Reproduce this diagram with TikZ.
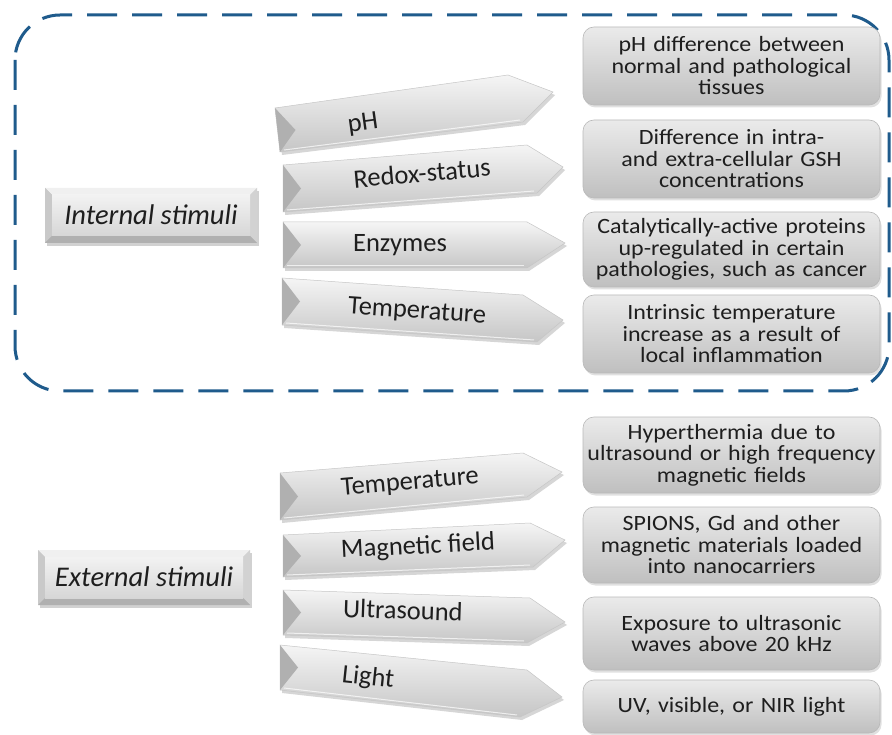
\documentclass[tikz,border=0pt]{standalone}
\usepackage{fontspec}
\setmainfont{Carlito}
\newfontfamily\boxfont{Carlito}[FakeStretch=1.1]
\usetikzlibrary{calc,shadows}
\definecolor{dashblue}{HTML}{1F5B8C}
\definecolor{txt}{HTML}{1E1E1E}
\newcommand{\stimarrow}[5]{%
  \fill[black,opacity=0.16,xshift=2pt,yshift=-3pt] #1 -- #2 -- #3 -- #4 -- #5 -- cycle;
  \shade[top color=gray!8,middle color=gray!20,bottom color=gray!45,draw=gray!45,line width=0.5pt] #1 -- #2 -- #3 -- #4 -- #5 -- cycle;
  \draw[white,opacity=0.7,line width=1pt] ($#5+(4,-2)$) -- ($#4+(-3,-2)$);
  \fill[gray!62] #1 -- #5 -- ($#1!0.5!#5+(18,0)$) -- cycle;
}
\newcommand{\bevelbox}[4]{%
  \fill[black,opacity=0.18] ({#1+2},{#2+3}) rectangle ({#3+2},{#4+3});
  \fill[gray!50] (#1,#2) rectangle (#3,#4);
  \fill[gray!12] (#1,#2) -- (#3,#2) -- ({#3-7},{#2+7}) -- ({#1+7},{#2+7}) -- cycle;
  \fill[gray!42] (#1,#2) -- ({#1+7},{#2+7}) -- ({#1+7},{#4-7}) -- (#1,#4) -- cycle;
  \fill[gray!35] (#3,#2) -- ({#3-7},{#2+7}) -- ({#3-7},{#4-7}) -- (#3,#4) -- cycle;
  \fill[gray!62] (#1,#4) -- ({#1+7},{#4-7}) -- ({#3-7},{#4-7}) -- (#3,#4) -- cycle;
  \shade[top color=gray!10,bottom color=gray!32] ({#1+7},{#2+7}) rectangle ({#3-7},{#4-7});
}
\tikzset{
  descbox/.style={rounded corners=11pt, top color=gray!16, middle color=gray!28, bottom color=gray!50,
    draw=gray!55, line width=0.6pt, minimum width=297pt, text width=296pt, align=center,
    font=\boxfont\fontsize{21.8}{21.5}\selectfont, text=txt, inner sep=0pt,
    drop shadow={shadow xshift=1.5pt, shadow yshift=-2.5pt, opacity=0.3, fill=gray!80}},
  alabel/.style={font=\fontsize{26.5}{28}\selectfont, text=txt, inner sep=0pt},
  slabel/.style={font=\itshape\fontsize{28.5}{30}\selectfont, text=txt, inner sep=0pt},
}
\begin{document}
\begin{tikzpicture}[x=1pt,y=-1pt]
\useasboundingbox (0,0) rectangle (892,735);
\fill[white] (0,0) rectangle (892,735);

% dashed frame
\draw[dashblue, line width=3pt, dash pattern=on 30pt off 15pt, rounded corners=45pt] (15,15) rectangle (889,391);

% stimulus boxes
\bevelbox{45}{188}{257}{243}
\node[slabel] (internal) at (151,215) {Internal stimuli};
\bevelbox{38}{550}{250}{605}
\node[slabel] (external) at (144,577) {External stimuli};

% arrows
\stimarrow{(275,108)}{(508,75)}{(553,92)}{(523,122)}{(280,152)}
\stimarrow{(283,165)}{(527,145)}{(563,167)}{(537,193)}{(283,212)}
\stimarrow{(283,222)}{(527,222)}{(565,243)}{(527,268)}{(283,268)}
\stimarrow{(282,278)}{(523,295)}{(563,320)}{(537,342)}{(282,325)}
\stimarrow{(280,473)}{(523,453)}{(562,472)}{(527,497)}{(280,520)}
\stimarrow{(283,535)}{(530,523)}{(565,540)}{(533,567)}{(283,577)}
\stimarrow{(283,590)}{(530,598)}{(565,622)}{(527,643)}{(283,635)}
\stimarrow{(280,645)}{(527,670)}{(562,697)}{(520,717)}{(280,690)}

\node[alabel, rotate=8] (lph) at (363,124) {pH};
\node[alabel, rotate=5] (lredox) at (422,173) {Redox-status};
\node[alabel] (lenz) at (400,245) {Enzymes};
\node[alabel, rotate=-4] (ltempi) at (417,312) {Temperature};
\node[alabel, rotate=5] (ltempe) at (410,483) {Temperature};
\node[alabel, rotate=3] (lmag) at (418,547) {Magnetic field};
\node[alabel, rotate=-2] (lus) at (403,610) {Ultrasound};
\node[alabel, rotate=-6] (llight) at (368,678) {Light};

% description boxes
\node[descbox, minimum height=78pt] (d1) at (731.5,66) {pH difference between\\normal and pathological\\tissues};
\node[descbox, minimum height=78pt] (d2) at (731.5,159) {Difference in intra-\\and extra-cellular GSH\\concentrations};
\node[descbox, minimum height=75pt] (d3) at (731.5,249.5) {Catalytically-active proteins\\up-regulated in certain\\pathologies, such as cancer};
\node[descbox, minimum height=78pt] (d4) at (731.5,334) {Intrinsic temperature\\increase as a result of\\local inflammation};
\node[descbox, minimum height=76pt] (d5) at (731.5,455) {Hyperthermia due to\\ultrasound or high frequency\\magnetic fields};
\node[descbox, minimum height=76pt] (d6) at (731.5,545) {SPIONS, Gd and other\\magnetic materials loaded\\into nanocarriers};
\node[descbox, minimum height=73pt] (d7) at (731.5,633.5) {Exposure to ultrasonic\\waves above 20 kHz};
\node[descbox, minimum height=53pt] (d8) at (731.5,706.5) {UV, visible, or NIR light};
\end{tikzpicture}
\end{document}
